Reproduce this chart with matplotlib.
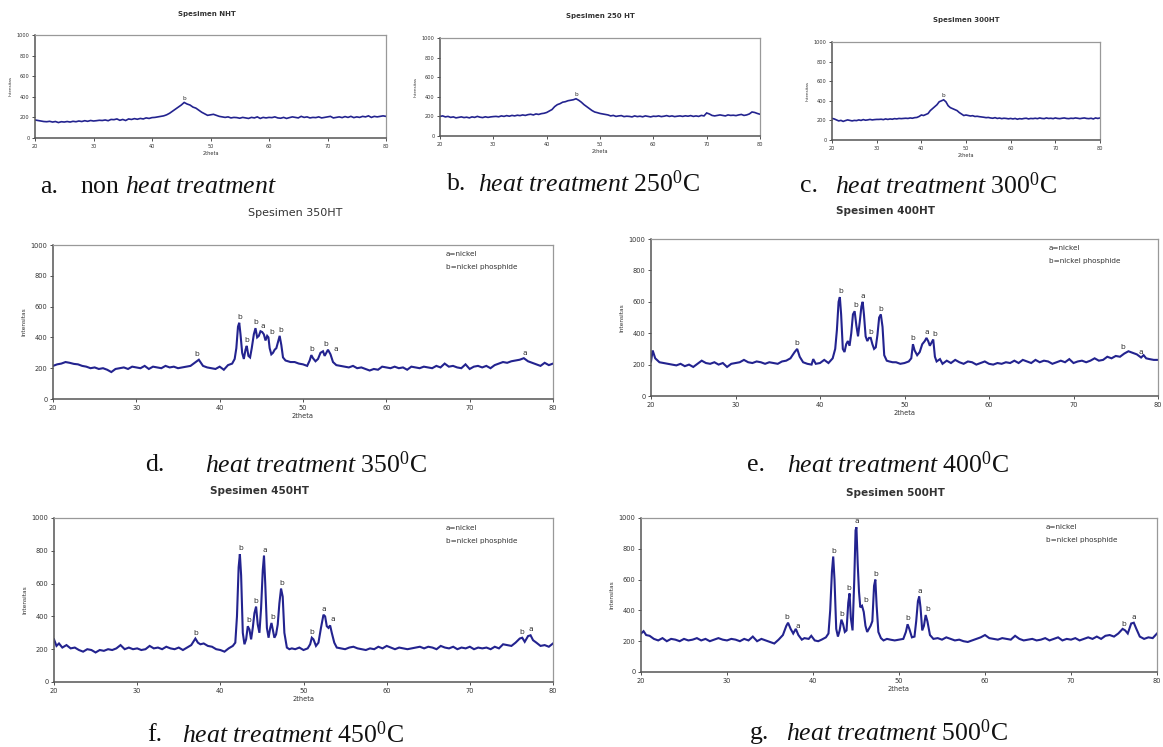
import numpy as np
import matplotlib
matplotlib.use("Agg")
import matplotlib.pyplot as plt

plt.rcParams['font.family'] = ['DejaVu Sans']
plt.rcParams['mathtext.fontset'] = 'custom'
plt.rcParams['mathtext.rm'] = 'Liberation Serif'
plt.rcParams['mathtext.it'] = 'Liberation Serif:italic'

W, H = 1163, 747
LINE = '#23238f'

# ---------------- data ----------------
grid = [20.0 + 0.5 * i for i in range(121)]  # 2theta sampling for panels a-c

I_a = [175, 170, 165, 160, 158, 162, 155, 160, 150, 158, 155,
       160, 155, 162, 158, 165, 160, 168, 162, 170, 165,
       168, 172, 170, 175, 168, 180, 178, 185, 172, 180,
       170, 185, 180, 188, 182, 190, 185, 195, 190, 198,
       200, 205, 210, 215, 225, 240, 260, 280, 300, 320,
       345, 330, 320, 300, 290, 270, 250, 235, 220, 225,
       230, 220, 210, 205, 200, 205, 195, 200, 198, 192,
       200, 195, 190, 200, 195, 205, 190, 200, 195, 200,
       198, 205, 195, 192, 200, 190, 198, 205, 200, 195,
       210, 200, 205, 195, 200, 198, 205, 195, 200, 205,
       210, 195, 200, 205, 198, 208, 200, 210, 198, 205,
       200, 210, 205, 215, 200, 210, 205, 210, 215, 210]

I_b = [200, 205, 195, 200, 190, 195, 185, 190, 195, 188, 192,
       185, 195, 190, 200, 192, 188, 196, 190, 195, 198,
       200, 196, 205, 200, 208, 202, 210, 205, 212, 208,
       215, 210, 218, 222, 215, 225, 220, 228, 232, 240,
       255, 270, 300, 320, 330, 345, 350, 360, 365, 370,
       380, 365, 345, 320, 300, 280, 260, 245, 238, 230,
       225, 220, 215, 205, 210, 200, 205, 208, 198, 202,
       200, 195, 205, 198, 202, 196, 205, 200, 195, 202,
       200, 205, 198, 202, 208, 200, 205, 198, 202, 205,
       200, 206, 202, 208, 200, 205, 200, 210, 205, 235,
       225, 210, 205, 210, 215, 210, 205, 215, 210, 212,
       208, 215, 220, 210, 215, 225, 245, 240, 230, 222]

I_c = [220, 215, 205, 195, 200, 190, 198, 205, 200, 195, 200,
       198, 205, 200, 208, 202, 205, 210, 205, 208, 210,
       210, 212, 208, 215, 210, 215, 212, 218, 215, 220,
       218, 220, 222, 220, 225, 222, 228, 230, 240, 255,
       250, 260, 270, 300, 320, 340, 360, 390, 400, 410,
       390, 350, 330, 320, 310, 300, 280, 265, 250, 255,
       250, 245, 248, 240, 242, 238, 235, 232, 228, 230,
       225, 222, 228, 220, 224, 218, 222, 220, 216, 220,
       215, 220, 212, 218, 215, 220, 222, 215, 220, 218,
       222, 218, 225, 220, 218, 225, 220, 222, 218, 225,
       220, 218, 222, 225, 220, 218, 222, 220, 225, 222,
       218, 222, 225, 220, 218, 222, 215, 225, 220, 225]

# Panel d (350 HT)
tt_d = [20, 20.5, 21, 21.5, 22, 22.5, 23, 23.5, 24, 24.5, 25, 25.5, 26, 26.5, 27, 27.5, 28, 28.5, 29, 29.5,
        30, 30.5, 31, 31.5, 32, 32.5, 33, 33.5, 34, 34.5, 35, 35.5, 36, 36.5, 37, 37.5, 38, 38.5, 39, 39.5,
        40, 40.5, 41, 41.5, 41.8, 42.0, 42.2, 42.35, 42.5, 42.7, 42.9, 43.1, 43.25, 43.45, 43.65, 43.85,
        44.1, 44.3, 44.5, 44.7, 44.9, 45.1, 45.3, 45.5, 45.7, 45.85, 46.0, 46.2, 46.4, 46.6, 46.8, 47.0,
        47.2, 47.4, 47.6, 47.9, 48.2, 48.5, 49.0, 49.5, 50.0, 50.5, 50.8, 51.0, 51.2, 51.5, 51.8, 52.1,
        52.4, 52.6, 52.8, 53.0, 53.3, 53.6, 54.0, 54.5, 55, 55.5, 56, 56.5, 57, 57.5, 58, 58.5, 59, 59.5,
        60, 60.5, 61, 61.5, 62, 62.5, 63, 63.5, 64, 64.5, 65, 65.5, 66, 66.5, 67, 67.5, 68, 68.5, 69, 69.5,
        70, 70.5, 71, 71.5, 72, 72.5, 73, 73.5, 74, 74.5, 75, 75.5, 76, 76.5, 77, 77.5, 78, 78.5, 79, 79.5, 80]
I_d = [215, 225, 230, 240, 235, 228, 225, 215, 210, 200, 205, 195, 200, 190, 175, 195, 200, 205, 195, 210,
       205, 200, 215, 195, 210, 205, 200, 215, 205, 210, 200, 205, 210, 215, 235, 255, 215, 205, 200, 195,
       210, 190, 220, 230, 260, 330, 470, 495, 420, 300, 260, 320, 345, 280, 270, 330,
       420, 460, 400, 410, 440, 435, 420, 380, 410, 400, 330, 290, 300, 320, 330, 370,
       410, 350, 270, 250, 245, 240, 240, 230, 225, 215, 250, 285, 265, 245, 260, 300,
       310, 280, 300, 320, 290, 240, 220, 215, 210, 205, 215, 200, 205, 195, 185, 195, 190, 210,
       205, 200, 210, 200, 205, 190, 210, 205, 200, 210, 205, 200, 215, 205, 230, 210, 215, 205, 200, 225,
       195, 210, 215, 205, 215, 200, 220, 230, 240, 235, 245, 250, 255, 265, 245, 235, 225, 215, 235, 220, 230]

# Panel e (400 HT)
tt_e = [20, 20.2, 20.5, 21, 21.5, 22, 22.5, 23, 23.5, 24, 24.5, 25, 25.5, 26, 26.5, 27, 27.5, 28, 28.5, 29,
        29.5, 30, 30.5, 31, 31.5, 32, 32.5, 33, 33.5, 34, 34.5, 35, 35.5, 36, 36.5, 37, 37.3, 37.6, 38, 38.5,
        39, 39.2, 39.5, 40, 40.5, 41, 41.5, 41.8, 42.0, 42.2, 42.35, 42.5, 42.7, 42.9, 43.1, 43.3, 43.5,
        43.7, 43.9, 44.1, 44.3, 44.5, 44.7, 44.9, 45.05, 45.2, 45.4, 45.6, 45.8, 46.0, 46.2, 46.4, 46.6,
        46.8, 47.0, 47.2, 47.4, 47.6, 47.9, 48.2, 48.6, 49, 49.5, 50, 50.5, 50.8, 51.0, 51.2, 51.5, 51.8,
        52.1, 52.4, 52.6, 52.8, 53.0, 53.2, 53.4, 53.6, 53.8, 54.2, 54.5, 55, 55.5, 56, 56.5, 57, 57.5, 58,
        58.5, 59, 59.5, 60, 60.5, 61, 61.5, 62, 62.5, 63, 63.5, 64, 64.5, 65, 65.5, 66, 66.5, 67, 67.5, 68,
        68.5, 69, 69.5, 70, 70.5, 71, 71.5, 72, 72.5, 73, 73.5, 74, 74.5, 75, 75.5, 76, 76.5, 77, 77.5, 78,
        78.3, 78.6, 79, 79.5, 80]
I_e = [220, 290, 240, 215, 210, 205, 200, 195, 205, 190, 200, 185, 205, 225, 210, 205, 215, 200, 210, 185,
       205, 210, 215, 230, 215, 210, 220, 215, 205, 215, 210, 205, 220, 225, 240, 280, 300, 250, 215, 205,
       200, 235, 205, 210, 230, 210, 240, 300, 420, 600, 630, 520, 300, 280, 330, 350, 320,
       400, 520, 540, 450, 380, 470, 570, 600, 520, 380, 350, 370, 370, 330, 300, 310,
       390, 500, 520, 440, 260, 225, 220, 215, 215, 205, 210, 220, 240, 330, 290, 260, 280,
       330, 350, 370, 350, 320, 340, 360, 250, 220, 235, 205, 225, 210, 230, 215, 205, 220, 215,
       200, 210, 220, 205, 200, 210, 205, 215, 210, 225, 210, 230, 220, 210, 230, 215, 225, 220, 205, 215,
       225, 215, 235, 210, 220, 225, 215, 225, 240, 225, 230, 250, 240, 255, 250, 270, 285, 275, 265, 245,
       260, 240, 235, 230, 230]

# Panel f (450 HT)
tt_f = [20, 20.3, 20.6, 21, 21.5, 22, 22.5, 23, 23.5, 24, 24.5, 25, 25.5, 26, 26.5, 27, 27.5, 28, 28.5, 29,
        29.5, 30, 30.5, 31, 31.5, 32, 32.5, 33, 33.5, 34, 34.5, 35, 35.5, 36, 36.5, 37, 37.3, 37.6, 38, 38.5,
        39, 39.5, 40, 40.5, 41, 41.5, 41.8, 42.0, 42.2, 42.35, 42.5, 42.7, 42.9, 43.1, 43.3, 43.5, 43.7,
        43.9, 44.1, 44.3, 44.5, 44.7, 44.9, 45.1, 45.25, 45.4, 45.6, 45.8, 46.0, 46.15, 46.3, 46.5, 46.7,
        46.9, 47.1, 47.3, 47.5, 47.7, 48.0, 48.3, 48.6, 49, 49.5, 50, 50.5, 50.8, 51.0, 51.2, 51.5, 51.8,
        52.1, 52.4, 52.6, 52.8, 53.0, 53.2, 53.4, 53.7, 54.0, 54.5, 55, 55.5, 56, 56.5, 57, 57.5, 58, 58.5,
        59, 59.5, 60, 60.5, 61, 61.5, 62, 62.5, 63, 63.5, 64, 64.5, 65, 65.5, 66, 66.5, 67, 67.5, 68, 68.5,
        69, 69.5, 70, 70.5, 71, 71.5, 72, 72.5, 73, 73.5, 74, 74.5, 75, 75.5, 76, 76.3, 76.6, 77, 77.3, 77.6,
        78, 78.5, 79, 79.5, 80]
I_f = [260, 220, 235, 210, 225, 205, 210, 195, 185, 200, 195, 180, 195, 190, 200, 195, 205, 225, 200, 210,
       200, 205, 195, 200, 220, 205, 210, 200, 215, 205, 200, 210, 195, 210, 225, 265, 240, 230, 235, 220,
       215, 200, 195, 185, 205, 220, 240, 400, 700, 780, 650, 300, 230, 260, 340, 320, 260,
       330, 420, 460, 350, 300, 450, 680, 770, 600, 330, 270, 330, 360, 320, 270, 290,
       350, 480, 570, 520, 300, 210, 200, 205, 200, 210, 195, 205, 230, 270, 260, 220, 240,
       330, 410, 400, 340, 330, 345, 300, 240, 210, 205, 200, 210, 215, 205, 200, 195, 205, 200,
       215, 205, 220, 210, 200, 210, 205, 200, 205, 210, 215, 205, 215, 210, 200, 220, 210, 205, 215, 200,
       210, 205, 215, 200, 210, 205, 210, 200, 215, 205, 230, 225, 220, 240, 265, 270, 245, 280, 285, 255,
       240, 220, 225, 215, 235]

# Panel g (500 HT)
tt_g = [20, 20.3, 20.6, 21, 21.5, 22, 22.5, 23, 23.5, 24, 24.5, 25, 25.5, 26, 26.5, 27, 27.5, 28, 28.5, 29,
        29.5, 30, 30.5, 31, 31.5, 32, 32.5, 33, 33.5, 34, 34.5, 35, 35.5, 36, 36.5, 36.9, 37.1, 37.4, 37.7,
        38.0, 38.3, 38.7, 39, 39.5, 39.8, 40.2, 40.6, 41, 41.5, 41.8, 42.0, 42.2, 42.35, 42.5, 42.7, 42.9,
        43.1, 43.3, 43.5, 43.7, 43.9, 44.1, 44.25, 44.4, 44.6, 44.8, 44.95, 45.05, 45.2, 45.35, 45.5, 45.7,
        45.9, 46.1, 46.3, 46.5, 46.7, 46.9, 47.1, 47.25, 47.4, 47.6, 47.9, 48.2, 48.6, 49, 49.5, 50, 50.5,
        50.8, 51.0, 51.2, 51.5, 51.8, 52.0, 52.2, 52.35, 52.5, 52.7, 52.9, 53.1, 53.3, 53.6, 54.0, 54.5,
        55, 55.5, 56, 56.5, 57, 57.5, 58, 58.5, 59, 59.5, 60, 60.5, 61, 61.5, 62, 62.5, 63, 63.5, 64, 64.5,
        65, 65.5, 66, 66.5, 67, 67.5, 68, 68.5, 69, 69.5, 70, 70.5, 71, 71.5, 72, 72.5, 73, 73.5, 74, 74.5,
        75, 75.5, 76, 76.3, 76.6, 77, 77.3, 77.6, 78, 78.5, 79, 79.5, 80]
I_g = [250, 265, 240, 235, 215, 205, 220, 200, 215, 210, 200, 215, 205, 210, 220, 205, 215, 200, 210, 220,
       210, 205, 215, 210, 200, 215, 205, 230, 200, 215, 205, 195, 185, 210, 240, 300, 320, 280, 250,
       280, 240, 210, 220, 215, 235, 205, 200, 210, 225, 250, 400, 650, 750, 600, 280, 230,
       270, 340, 310, 260, 270, 450, 510, 350, 270, 600, 920, 940, 700, 520, 420, 430,
       390, 300, 260, 280, 300, 330, 560, 600, 430, 260, 220, 205, 215, 210, 205, 210, 215,
       260, 310, 280, 225, 230, 330, 460, 490, 420, 270, 300, 370, 330, 240, 215, 220,
       210, 225, 215, 205, 210, 200, 195, 205, 215, 225, 240, 220, 215, 210, 220, 215, 210, 235, 215, 205,
       210, 215, 205, 210, 220, 205, 215, 225, 205, 215, 210, 220, 205, 215, 225, 215, 230, 215, 235, 240,
       230, 250, 280, 270, 250, 315, 320, 280, 230, 215, 225, 220, 250]

# peak labels: 2theta, intensity, phase letter
pk_a_x, pk_a_y, pk_a_t = [45.5], [355], ['b']
pk_b_x, pk_b_y, pk_b_t = [45.6], [395], ['b']
pk_c_x, pk_c_y, pk_c_t = [45.0], [425], ['b']
pk_d_x = [37.3, 42.4, 43.3, 44.3, 45.2, 46.2, 47.3, 51.0, 52.7, 53.9, 76.6]
pk_d_y = [262, 505, 355, 470, 445, 410, 420, 295, 330, 300, 270]
pk_d_t = ['b', 'b', 'b', 'b', 'a', 'b', 'b', 'b', 'b', 'a', 'a']
pk_e_x = [37.3, 42.4, 44.2, 45.1, 46.0, 47.2, 51.0, 52.6, 53.6, 75.8, 78.0]
pk_e_y = [310, 640, 550, 610, 380, 530, 340, 380, 370, 285, 255]
pk_e_t = ['b', 'b', 'b', 'a', 'b', 'b', 'b', 'a', 'b', 'b', 'a']
pk_f_x = [37.0, 42.4, 43.4, 44.3, 45.3, 46.3, 47.4, 51.0, 52.5, 53.5, 76.2, 77.3]
pk_f_y = [275, 790, 350, 470, 780, 370, 580, 280, 420, 355, 280, 295]
pk_f_t = ['b', 'b', 'b', 'b', 'a', 'b', 'b', 'b', 'a', 'a', 'b', 'a']
pk_g_x = [37.0, 38.2, 42.4, 43.3, 44.2, 45.1, 46.1, 47.3, 51.0, 52.4, 53.4, 76.1, 77.3]
pk_g_y = [330, 270, 760, 350, 520, 950, 440, 610, 320, 500, 380, 285, 330]
pk_g_t = ['b', 'a', 'b', 'b', 'b', 'a', 'b', 'b', 'b', 'a', 'b', 'b', 'a']

titles = ['Spesimen NHT', 'Spesimen 250 HT', 'Spesimen 300HT', 'Spesimen 350HT',
          'Spesimen 400HT', 'Spesimen 450HT', 'Spesimen 500HT']
cap_letters = ['a.', 'b.', 'c.', 'd.', 'e.', 'f.', 'g.']
cap_texts = ['non $\\it{heat\\ treatment}$',
             '$\\it{heat\\ treatment}$ 250$^{0}$C',
             '$\\it{heat\\ treatment}$ 300$^{0}$C',
             '$\\it{heat\\ treatment}$ 350$^{0}$C',
             '$\\it{heat\\ treatment}$ 400$^{0}$C',
             '$\\it{heat\\ treatment}$ 450$^{0}$C',
             '$\\it{heat\\ treatment}$ 500$^{0}$C']
legend_lines = ['a=nickel', 'b=nickel phosphide']
x_ticks = [20, 30, 40, 50, 60, 70, 80]
y_ticks = [0, 200, 400, 600, 800, 1000]

# ---------------- layout (pixel boxes: left, top, right, bottom) ----------------
boxes = [(35, 35, 386, 138), (440, 38, 760, 136), (832, 42, 1100, 140),
         (53, 245, 553, 399), (651, 239, 1158, 396),
         (54, 518, 553, 682), (641, 518, 1157, 672)]
title_x = [207, 600, 966, 295, 885, 260, 895]
title_y = [14, 16, 20, 213, 211, 491, 493]
title_bold = [True, True, True, False, True, True, True]
cap_letter_x = [40, 447, 800, 145, 747, 147, 750]
cap_text_x = [80, 478, 835, 205, 787, 182, 786]
cap_y = [187, 184, 186, 465, 465, 735, 733]
small = [True, True, True, False, False, False, False]

series = [(grid, I_a), (grid, I_b), (grid, I_c), (tt_d, I_d), (tt_e, I_e), (tt_f, I_f), (tt_g, I_g)]
peaks = [(pk_a_x, pk_a_y, pk_a_t), (pk_b_x, pk_b_y, pk_b_t), (pk_c_x, pk_c_y, pk_c_t),
         (pk_d_x, pk_d_y, pk_d_t), (pk_e_x, pk_e_y, pk_e_t), (pk_f_x, pk_f_y, pk_f_t),
         (pk_g_x, pk_g_y, pk_g_t)]

fig = plt.figure(figsize=(W / 100, H / 100), dpi=100)
fig.patch.set_facecolor('white')

for i in range(7):
    l, t, r, b = boxes[i]
    ax = fig.add_axes([l / W, 1 - b / H, (r - l) / W, (b - t) / H])
    x, y = series[i]
    ax.plot(x, y, color=LINE, lw=1.2 if small[i] else 1.5, solid_joinstyle='miter')
    ax.set_xlim(20, 80)
    ax.set_ylim(0, 1000)
    ax.set_xticks(x_ticks)
    ax.set_yticks(y_ticks)
    fs = 3.6 if small[i] else 4.8
    ax.tick_params(axis='both', labelsize=fs, length=2, width=0.6, pad=2, colors='#333333')
    for s in ['top', 'right']:
        ax.spines[s].set_color('#999999')
        ax.spines[s].set_linewidth(0.9)
    for s in ['left', 'bottom']:
        ax.spines[s].set_color('#555555')
        ax.spines[s].set_linewidth(1.1)
    ax.set_xlabel('2theta', fontsize=fs, labelpad=2, color='#333333')
    ax.set_ylabel('Intensitas', fontsize=fs - 0.6, labelpad=3, color='#333333')
    px, py, pt = peaks[i]
    for xx, yy, tt in zip(px, py, pt):
        ax.text(xx, yy + 8, tt, fontsize=fs + 0.6, ha='center', va='bottom', color='#333333')
    if not small[i]:
        ax.text(0.785, 0.94, legend_lines[0], transform=ax.transAxes, fontsize=5.2,
                va='center', color='#333333')
        ax.text(0.785, 0.86, legend_lines[1], transform=ax.transAxes, fontsize=5.2,
                va='center', color='#333333')
    fig.text(title_x[i] / W, 1 - title_y[i] / H, titles[i], ha='center', va='center',
             fontsize=(5.0 if small[i] else (7.6 if title_bold[i] else 8.0)),
             fontweight='bold' if title_bold[i] else 'normal', color='#333333')
    fig.text(cap_letter_x[i] / W, 1 - cap_y[i] / H, cap_letters[i], ha='left', va='center',
             fontsize=18.5, family='Liberation Serif', color='#111111')
    fig.text(cap_text_x[i] / W, 1 - cap_y[i] / H, cap_texts[i], ha='left', va='center',
             fontsize=18.5, family='Liberation Serif', color='#111111')

fig.savefig('out.png', dpi=100, facecolor='white')
